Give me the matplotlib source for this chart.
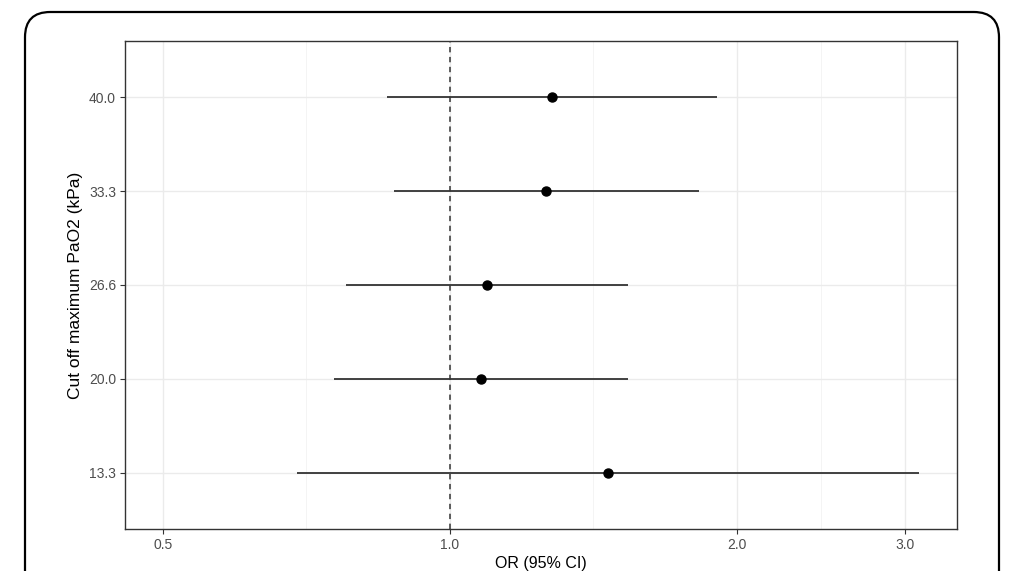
import matplotlib
matplotlib.use("Agg")
import matplotlib.pyplot as plt
from matplotlib.patches import FancyBboxPatch
import numpy as np

plt.rcParams['font.family'] = ['Liberation Sans', 'DejaVu Sans']

# данные: пороги PaO2 и OR с 95% ДИ
cutoffs = ["13.3", "20.0", "26.6", "33.3", "40.0"]
or_est = [1.465, 1.078, 1.094, 1.261, 1.279]
ci_low = [0.691, 0.756, 0.778, 0.873, 0.859]
ci_high = [3.105, 1.536, 1.536, 1.824, 1.906]
x_ticks = [0.5, 1.0, 2.0, 3.0]
x_minor = [np.sqrt(0.5), np.sqrt(2.0), np.sqrt(6.0)]

fig = plt.figure(figsize=(10.1, 5.71), dpi=100)
ax = fig.add_axes([125 / 1010, 42 / 571, 832 / 1010, 488 / 571])

ypos = np.arange(len(cutoffs))

# сетка
for v in x_ticks:
    ax.axvline(v, color='#EBEBEB', lw=1.0, zorder=0)
for v in x_minor:
    ax.axvline(v, color='#F2F2F2', lw=0.6, zorder=0)
for y in ypos:
    ax.axhline(y, color='#EBEBEB', lw=1.0, zorder=0)

ax.axvline(1.0, color='#333333', lw=1.1, ls=(0, (3.5, 3)), zorder=1)

ax.hlines(ypos, ci_low, ci_high, color='#333333', lw=1.3, zorder=2)
ax.plot(or_est, ypos, 'o', color='black', ms=6.5, zorder=3)

ax.set_xscale('log')
lo = np.log(0.5)
hi = np.log(max(ci_high))
pad = 0.05 * (hi - lo)
ax.set_xlim(np.exp(lo - pad), np.exp(hi + pad))
ax.set_ylim(-0.6, len(cutoffs) - 0.4)

ax.set_xticks(x_ticks)
ax.set_xticklabels(["%.1f" % v for v in x_ticks])
ax.xaxis.set_minor_locator(matplotlib.ticker.NullLocator())
ax.set_yticks(ypos)
ax.set_yticklabels(cutoffs)

ax.tick_params(axis='both', length=3.5, width=0.8, color='#333333',
               labelcolor='#4D4D4D', labelsize=10, pad=3)
for s in ax.spines.values():
    s.set_color('#333333')
    s.set_linewidth(1.0)

ax.set_xlabel("OR (95% CI)", fontsize=11.5, color='black', labelpad=3)
ax.set_ylabel("Cut off maximum PaO2 (kPa)", fontsize=12.5, color='black', labelpad=4)

# рамка со скруглёнными углами
frame = FancyBboxPatch((25 / 1010, -0.1), 974 / 1010, (559 / 571) + 0.1,
                       boxstyle="round,pad=0,rounding_size=0.025",
                       transform=fig.transFigure, fill=False,
                       edgecolor='black', lw=1.6, mutation_aspect=1010 / 571)
fig.patches.append(frame)

fig.savefig("out.png", dpi=100, facecolor='white')
